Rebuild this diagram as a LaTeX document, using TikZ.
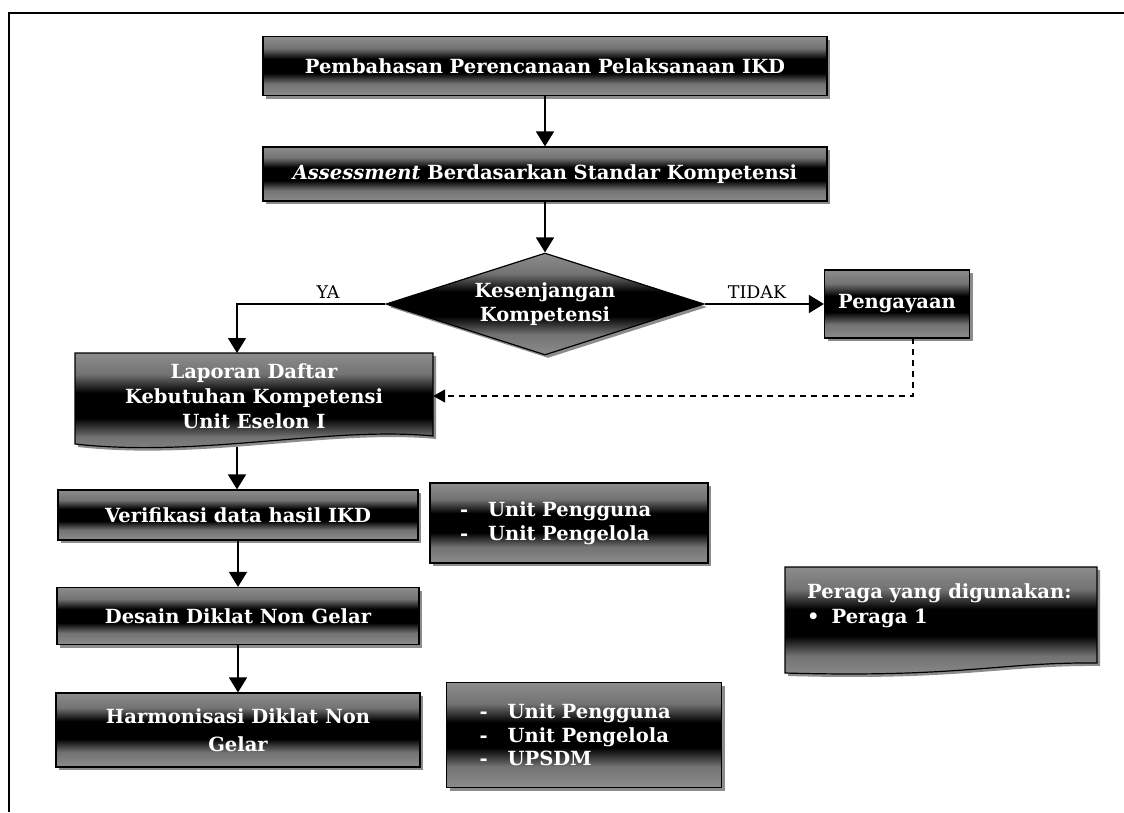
\documentclass[tikz,border=0pt]{standalone}
\usepackage{fontspec}
\newfontfamily\boxf{DejaVu Serif}
\usetikzlibrary{arrows.meta,shapes.geometric,shadows}
\pgfdeclareverticalshading{band}{100bp}{color(0bp)=(black!45); color(25bp)=(black!45); color(35bp)=(black!55); color(44bp)=(black); color(56bp)=(black); color(65bp)=(black!55); color(75bp)=(black!45); color(100bp)=(black!45)}
\tikzset{
  boxfont/.style={font=\boxf\bfseries\fontsize{19.5}{24}\selectfont, text=white},
  stepbox/.style={boxfont, draw=black, line width=1.2pt, shade, shading=band, inner sep=2pt, align=center,
    drop shadow={shadow xshift=3pt, shadow yshift=-3pt, fill=black!45, opacity=1}},
  decide/.style={stepbox, diamond, aspect=3.1, inner sep=0pt},
  plaintxt/.style={boxfont, inner sep=0pt, align=center},
  arr/.style={line width=1.6pt, -{Triangle[length=15pt,width=18pt]}},
  dasharr/.style={line width=1.5pt, dash pattern=on 6pt off 5pt, -{Triangle[length=12pt,width=13pt]}},
  lbl/.style={font=\boxf\fontsize{17.5}{21}\selectfont, inner sep=0pt},
  docpath/.style={draw=black, line width=1.2pt, shade, shading=band},
  docshadow/.style={fill=black!45},
}
\begin{document}
\begin{tikzpicture}[x=1pt,y=-1pt]
\useasboundingbox (0,0) rectangle (1124,812);
\fill[white] (0,0) rectangle (1124,812);
% frame
\draw[line width=2.2pt] (9,812) -- (9,13) -- (1124,13);

% main boxes
\node[stepbox, minimum width=564pt, minimum height=59pt] (b1) at (545,66) {Pembahasan Perencanaan Pelaksanaan IKD};
\node[stepbox, minimum width=564pt, minimum height=54pt] (b2) at (545,174) {\textit{Assessment} Berdasarkan Standar Kompetensi};
\node[decide, minimum width=318pt, minimum height=102pt] (d) at (545,304) {Kesenjangan\\Kompetensi};
\node[stepbox, minimum width=145pt, minimum height=68pt] (peng) at (897,304) {Pengayaan};

% Laporan document shape
\path[docshadow, shift={(3,3)}] (75,353) -- (433,353) -- (433,436) .. controls (330,426) and (200,458) .. (75,444) -- cycle;
\path[docpath] (75,353) -- (433,353) -- (433,436) .. controls (330,426) and (200,458) .. (75,444) -- cycle;
\node[plaintxt, font=\boxf\bfseries\fontsize{19.5}{25}\selectfont, minimum width=358pt, minimum height=86pt] (lap) at (254,396) {Laporan Daftar\\Kebutuhan Kompetensi\\Unit Eselon I};

\node[stepbox, minimum width=360pt, minimum height=50pt] (verif) at (238,515) {Verifikasi data hasil IKD};
\node[stepbox, minimum width=362pt, minimum height=57pt] (desain) at (238,616) {Desain Diklat Non Gelar};
\node[stepbox, minimum width=364pt, minimum height=74pt, font=\boxf\bfseries\fontsize{19.5}{28}\selectfont] (harm) at (238,730) {Harmonisasi Diklat Non\\Gelar};

\node[stepbox, minimum width=278pt, minimum height=80pt, align=left, text width=218pt] (list1) at (569,523) {-\hspace{20pt}Unit Pengguna\\-\hspace{20pt}Unit Pengelola};
\node[stepbox, minimum width=275pt, minimum height=105pt, align=left, text width=209pt, font=\boxf\bfseries\fontsize{19.5}{23.5}\selectfont] (list2) at (584,735) {-\hspace{20pt}Unit Pengguna\\-\hspace{20pt}Unit Pengelola\\-\hspace{20pt}UPSDM};

% Peraga document shape
\path[docshadow, shift={(3,3)}] (785,567) -- (1097,567) -- (1097,663) .. controls (1000,662) and (960,678) .. (785,673) -- cycle;
\path[docpath] (785,567) -- (1097,567) -- (1097,663) .. controls (1000,662) and (960,678) .. (785,673) -- cycle;
\node[boxfont, align=left, inner sep=0pt, anchor=north west, font=\boxf\bfseries\fontsize{19.5}{25}\selectfont] (per) at (807,583) {Peraga yang digunakan:\\\textbullet\hspace{12pt}Peraga 1};

% connectors
\coordinate (yac) at (237,304);
\coordinate (lapin) at (237,353);
\coordinate (lapout) at (237,447);
\coordinate (pd) at (913,338);
\draw[arr] (b1) -- (b2);
\draw[arr] (b2) -- (d);
\draw[arr] (d.west) -- (yac) -- (lapin);
\node[lbl] (ya) at (328,292) {YA};
\draw[arr] (d.east) -- (peng.west);
\node[lbl] (tidak) at (757,292) {TIDAK};
\draw[dasharr] (pd) |- (lap.east);
\draw[arr] (lapout) -- (lapout |- verif.north);
\draw[arr] (verif) -- (desain);
\draw[arr] (desain) -- (harm);
\end{tikzpicture}
\end{document}
